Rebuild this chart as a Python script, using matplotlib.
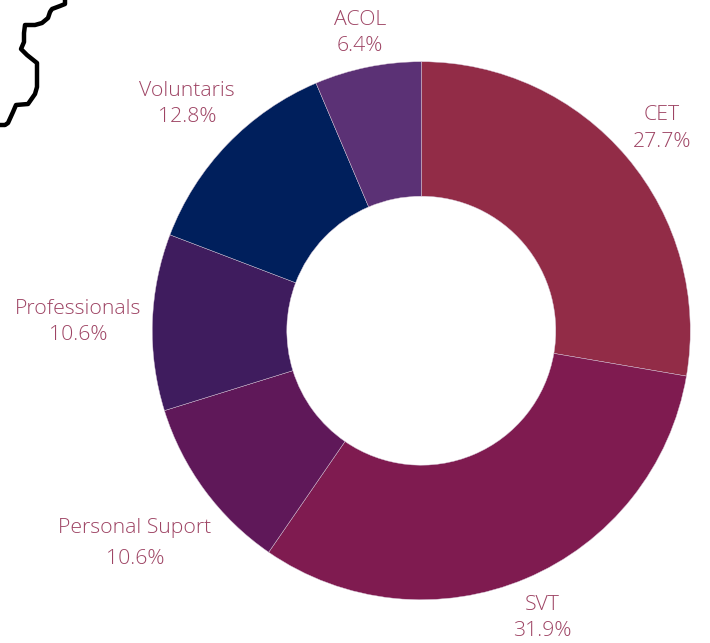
import matplotlib
matplotlib.use("Agg")
import matplotlib.pyplot as plt

# slices, clockwise from the top
labels = ['CET', 'SVT', 'Personal Suport', 'Professionals', 'Voluntaris', 'ACOL']
values = [27.7, 31.9, 10.6, 10.6, 12.8, 6.4]
colors = ['#922c47', '#7f1b50', '#5f1859', '#3f1c5e', '#001f5c', '#5b3175']

# black border line in the top left corner
border_x = [65, 65, 60, 52, 50, 48, 42, 35, 25, 24, 24, 21, 27, 37, 37, 37, 35, 28, 16, 13, 8, 5, 0]
border_y = [0, 4, 6, 9, 12, 18, 23, 25, 25, 33, 42, 49, 55, 63, 75, 87, 94, 104, 105, 112, 123, 125, 125]

plt.rcParams['font.family'] = ['Open Sans', 'DejaVu Sans']

fig = plt.figure(figsize=(7.10, 6.43), dpi=100)
ax = fig.add_axes([0, 0, 1, 1])

# y axis is flipped below, so this runs clockwise from the top on screen
ax.pie(values, colors=colors, center=(421.3, 330.7), radius=269, startangle=-90,
       counterclock=True, frame=True,
       wedgeprops=dict(width=134.5, edgecolor='#d8c8d8', linewidth=0.3))

ax.plot(border_x, border_y, color='black', linewidth=3.2, solid_joinstyle='round')

# label text centres, in the same order as the slices
label_x = [662, 542, 135, 78, 187, 360]
name_y = [115, 605, 528, 309, 91, 20]
pct_y = [142, 631, 559, 335, 117, 46]

for i in range(len(labels)):
    ax.text(label_x[i], name_y[i], labels[i], color='#9e4464', fontsize=15.3,
            fontweight='light', ha='center', va='center')
    ax.text(label_x[i], pct_y[i], str(values[i]) + '%', color='#9e4464', fontsize=15.3,
            fontweight='light', ha='center', va='center')

ax.set_xlim(0, 710)
ax.set_ylim(643, 0)
ax.axis('off')

fig.savefig('out.png', dpi=100)
